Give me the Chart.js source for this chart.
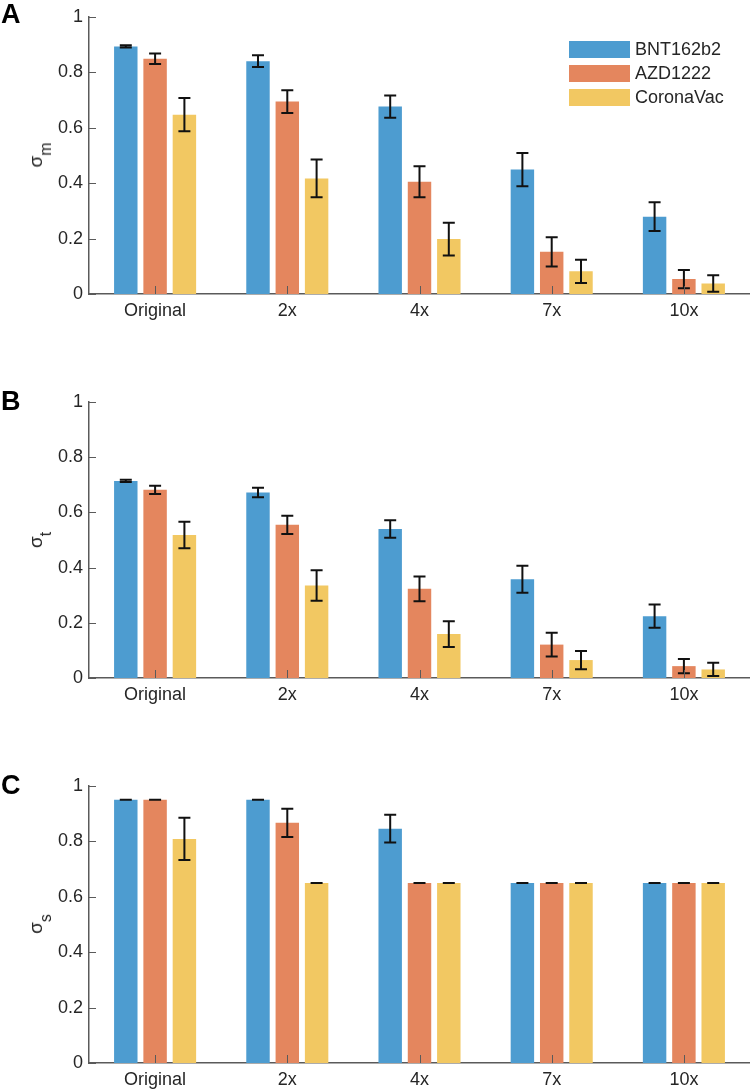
<!DOCTYPE html>
<html>
<head>
<meta charset="utf-8">
<script src="https://cdn.jsdelivr.net/npm/chart.js@4.4.1/dist/chart.umd.min.js"></script>
<style>
  body { margin: 0; background: #fff; font-family: "Liberation Sans", Arial, sans-serif; }
  #wrap { position: relative; width: 750px; height: 1092px; overflow: hidden; }
  canvas { position: absolute; left: 0; }
  .letter { position: absolute; left: 1px; font-weight: bold; font-size: 27px; line-height: 1; color: #000; }
  .ylab { position: absolute; transform: translate(-50%, -50%) rotate(-90deg); font-size: 19px; line-height: 1; color: #262626; white-space: nowrap; }
  .ylab sub { font-size: 16px; vertical-align: -9px; }
  #legend { position: absolute; left: 569px; top: 38px; }
  #legend .row { display: flex; align-items: center; height: 23.7px; font-size: 18px; color: #262626; }
  #legend .box { width: 61px; height: 17px; margin-right: 5px; }
</style>
</head>
<body>
<div id="wrap">
  <canvas id="chartA" width="750" height="330" style="top:0px"></canvas>
  <canvas id="chartB" width="750" height="334" style="top:380px"></canvas>
  <canvas id="chartC" width="750" height="332" style="top:760px"></canvas>

  <div class="letter" style="top:1px">A</div>
  <div class="letter" style="top:388px">B</div>
  <div class="letter" style="top:772px">C</div>

  <div class="ylab" style="left:40px; top:155px">σ<sub>m</sub></div>
  <div class="ylab" style="left:40px; top:540px">σ<sub>t</sub></div>
  <div class="ylab" style="left:40px; top:924px">σ<sub>s</sub></div>

  <div id="legend"></div>
</div>

<script>
// categorias e séries
const categories = ['Original', '2x', '4x', '7x', '10x'];
const seriesNames = ['BNT162b2', 'AZD1222', 'CoronaVac'];
const seriesColors = ['#4d9cd0', '#e4865e', '#f2c862'];
const yTicks = [0, 0.2, 0.4, 0.6, 0.8, 1];

// painel A: sigma_m
const mBNT = [0.893, 0.840, 0.676, 0.449, 0.279];
const mBNTerr = [0.004, 0.021, 0.040, 0.060, 0.052];
const mAZD = [0.849, 0.694, 0.405, 0.152, 0.054];
const mAZDerr = [0.019, 0.041, 0.056, 0.053, 0.033];
const mCor = [0.647, 0.417, 0.198, 0.082, 0.038];
const mCorErr = [0.060, 0.068, 0.059, 0.042, 0.030];

// painel B: sigma_t
const tBNT = [0.714, 0.672, 0.540, 0.358, 0.224];
const tBNTerr = [0.004, 0.017, 0.032, 0.049, 0.042];
const tAZD = [0.682, 0.555, 0.323, 0.121, 0.043];
const tAZDerr = [0.015, 0.033, 0.045, 0.043, 0.026];
const tCor = [0.518, 0.335, 0.159, 0.065, 0.031];
const tCorErr = [0.048, 0.055, 0.047, 0.033, 0.024];

// painel C: sigma_s
const sBNT = [0.95, 0.95, 0.846, 0.65, 0.65];
const sBNTerr = [0, 0, 0.050, 0, 0];
const sAZD = [0.95, 0.867, 0.65, 0.65, 0.65];
const sAZDerr = [0, 0.051, 0, 0, 0];
const sCor = [0.809, 0.65, 0.65, 0.65, 0.65];
const sCorErr = [0.076, 0, 0, 0, 0];

const axisColor = '#5a5a5a';
Chart.defaults.font.family = "'Liberation Sans', Arial, sans-serif";
Chart.defaults.font.size = 18;
Chart.defaults.color = '#262626';

// barras de erro desenhadas por cima das barras
const errorBars = {
    id: 'errorBars',
    afterDatasetsDraw(chart) {
        const ctx = chart.ctx;
        const y = chart.scales.y;
        ctx.save();
        ctx.strokeStyle = '#111';
        ctx.lineWidth = 2;
        chart.data.datasets.forEach((ds, d) => {
            chart.getDatasetMeta(d).data.forEach((bar, i) => {
                const hi = y.getPixelForValue(ds.data[i] + ds.errors[i]);
                const lo = y.getPixelForValue(ds.data[i] - ds.errors[i]);
                ctx.beginPath();
                ctx.moveTo(bar.x, hi); ctx.lineTo(bar.x, lo);
                ctx.moveTo(bar.x - 6, hi); ctx.lineTo(bar.x + 6, hi);
                ctx.moveTo(bar.x - 6, lo); ctx.lineTo(bar.x + 6, lo);
                ctx.stroke();
            });
        });
        ctx.restore();
    }
};

// ticks para dentro, como no MATLAB
const innerTicks = {
    id: 'innerTicks',
    afterDraw(chart) {
        const { ctx, chartArea, scales } = chart;
        ctx.save();
        ctx.strokeStyle = axisColor;
        ctx.lineWidth = 1;
        ctx.beginPath();
        scales.y.ticks.forEach((t, i) => {
            const py = Math.round(scales.y.getPixelForTick(i)) + 0.5;
            ctx.moveTo(chartArea.left, py); ctx.lineTo(chartArea.left + 7, py);
        });
        scales.x.ticks.forEach((t, i) => {
            const px = Math.round(scales.x.getPixelForTick(i)) + 0.5;
            ctx.moveTo(px, chartArea.bottom); ctx.lineTo(px, chartArea.bottom - 8);
        });
        ctx.stroke();
        ctx.restore();
    }
};

function makeChart(id, values, errors, padTop, xHeight) {
    const ctx = document.getElementById(id).getContext('2d');
    return new Chart(ctx, {
        type: 'bar',
        data: {
            labels: categories,
            datasets: seriesNames.map((name, k) => ({
                label: name,
                data: values[k],
                errors: errors[k],
                backgroundColor: seriesColors[k],
                borderWidth: 0,
                categoryPercentage: 0.665,
                barPercentage: 0.8
            }))
        },
        options: {
            responsive: false,
            animation: false,
            layout: { padding: { top: padTop, left: 0, right: 0, bottom: 0 } },
            plugins: { legend: { display: false }, tooltip: { enabled: false } },
            scales: {
                x: {
                    grid: { display: false, drawTicks: false },
                    border: { display: true, color: axisColor, width: 1.5 },
                    ticks: { padding: 6, maxRotation: 0 },
                    afterFit: s => { s.height = xHeight; }
                },
                y: {
                    min: 0,
                    max: 1,
                    grid: { display: false, drawTicks: false },
                    border: { display: true, color: axisColor, width: 1.5 },
                    ticks: { padding: 6, callback: v => String(v) },
                    afterBuildTicks: s => { s.ticks = yTicks.map(v => ({ value: v })); },
                    afterFit: s => { s.width = 89; }
                }
            }
        },
        plugins: [errorBars, innerTicks]
    });
}

makeChart('chartA', [mBNT, mAZD, mCor], [mBNTerr, mAZDerr, mCorErr], 16, 36);
makeChart('chartB', [tBNT, tAZD, tCor], [tBNTerr, tAZDerr, tCorErr], 22, 36);
makeChart('chartC', [sBNT, sAZD, sCor], [sBNTerr, sAZDerr, sCorErr], 26, 29);

// legenda do painel A
const legend = document.getElementById('legend');
seriesNames.forEach((name, k) => {
    const row = document.createElement('div');
    row.className = 'row';
    const box = document.createElement('span');
    box.className = 'box';
    box.style.background = seriesColors[k];
    const txt = document.createElement('span');
    txt.textContent = name;
    row.appendChild(box);
    row.appendChild(txt);
    legend.appendChild(row);
});
</script>
</body>
</html>
